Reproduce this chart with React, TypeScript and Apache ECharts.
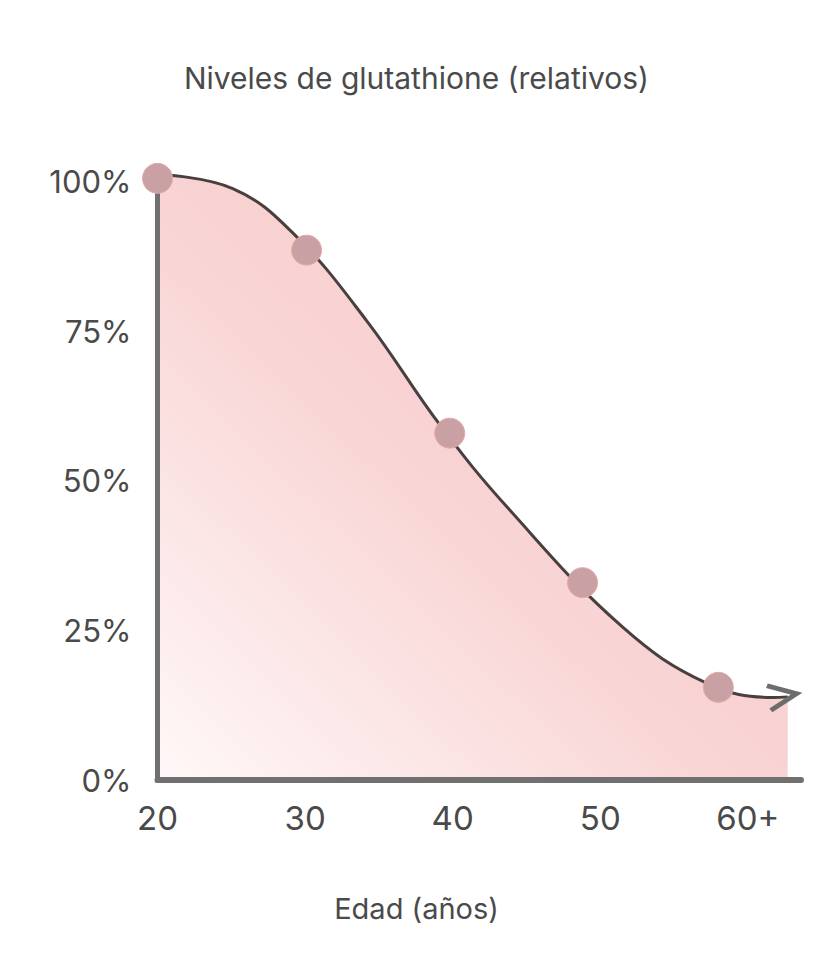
import React, { useEffect, useRef } from "react";
import * as echarts from "echarts";

// ---- data ----
const chartTitle = "Niveles de glutathione (relativos)";
const xAxisTitle = "Edad (años)";

const xTickValues = [20, 30, 40, 50, 60];
const xTickLabels = ["20", "30", "40", "50", "60+"];
const yTickValues = [0, 25, 50, 75, 100];

// measured points (age, relative level %)
const pointAges = [20, 30.1, 39.8, 48.8, 58];
const pointLevels = [100.6, 88.6, 58, 33, 15.5];

// hand-drawn trend curve
const curveAges = [20, 25.1, 29.2, 34.2, 39.1, 43.7, 51.5, 57.2, 61.7, 62.7];
const curveLevels = [101.3, 98.9, 91.4, 76.7, 59.5, 45.6, 25.6, 16.2, 13.8, 13.9];

const FONT = "Inter, 'Noto Sans', sans-serif";
const TEXT = "#4a4a4a";
const AXIS = "#707070";

export default function App() {
  const ref = useRef<HTMLDivElement>(null);

  useEffect(() => {
    if (!ref.current) return;
    const chart = echarts.init(ref.current, undefined, { renderer: "svg" });

    const curveData: any[] = curveAges.map((a, i) => [a, curveLevels[i]]);
    const last = curveData.length - 1;
    curveData[last] = {
      value: curveData[last],
      symbol: "path://M0 0 L28 12.5 L0 25",
      symbolSize: [28, 25],
      symbolRotate: 9,
      symbolOffset: [-5, -1],
      itemStyle: { color: "none", borderColor: "#6d6d6d", borderWidth: 5 },
    };

    chart.setOption({
      animation: false,
      title: [
        {
          text: chartTitle,
          left: "center",
          top: 63,
          padding: 0,
          textStyle: { fontSize: 30, fontWeight: "normal", color: TEXT, fontFamily: FONT },
        },
        {
          text: xAxisTitle,
          left: "center",
          top: 894,
          padding: 0,
          textStyle: { fontSize: 29, fontWeight: "normal", color: TEXT, fontFamily: FONT },
        },
      ],
      grid: { left: 157.5, right: 32, top: 170, bottom: 195 },
      xAxis: {
        type: "value",
        min: 20,
        max: 63.6,
        interval: 10,
        z: 4,
        axisLine: { show: true, lineStyle: { color: AXIS, width: 6 } },
        axisTick: { show: false },
        splitLine: { show: false },
        axisLabel: {
          margin: 21,
          fontSize: 33,
          color: TEXT,
          fontFamily: FONT,
          showMaxLabel: false,
          formatter: (v: number) => {
            const i = xTickValues.indexOf(v);
            return i >= 0 ? xTickLabels[i] : "";
          },
        },
      },
      yAxis: {
        type: "value",
        min: 0,
        max: 102,
        interval: 25,
        z: 4,
        axisLine: { show: true, lineStyle: { color: AXIS, width: 5, cap: "square" } },
        axisTick: { show: false },
        splitLine: { show: false },
        axisLabel: {
          margin: 26,
          fontSize: 31,
          color: TEXT,
          fontFamily: FONT,
          showMaxLabel: false,
          formatter: (v: number) => (yTickValues.indexOf(v) >= 0 ? v + "%" : ""),
        },
      },
      series: [
        {
          name: "curva",
          type: "line",
          smooth: 0.4,
          symbol: "none",
          data: curveData,
          lineStyle: { color: "#4a3f3f", width: 3 },
          areaStyle: {
            color: new echarts.graphic.LinearGradient(0, 1, 1, 0, [
              { offset: 0, color: "#fff8f8" },
              { offset: 0.45, color: "#f9d5d5" },
              { offset: 1, color: "#f6c3c3" },
            ]),
            opacity: 1,
          },
          z: 2,
        },
        {
          name: "puntos",
          type: "scatter",
          symbol: "circle",
          symbolSize: 30,
          data: pointAges.map((a, i) => [a, pointLevels[i]]),
          itemStyle: { color: "#c9a0a3", borderColor: "#e7a6a6", borderWidth: 1, opacity: 1 },
          z: 10,
        },
      ],
    });

    return () => chart.dispose();
  }, []);

  return (
    <div
      ref={ref}
      style={{ position: "absolute", left: 0, top: 0, width: 833, height: 975 }}
    />
  );
}
